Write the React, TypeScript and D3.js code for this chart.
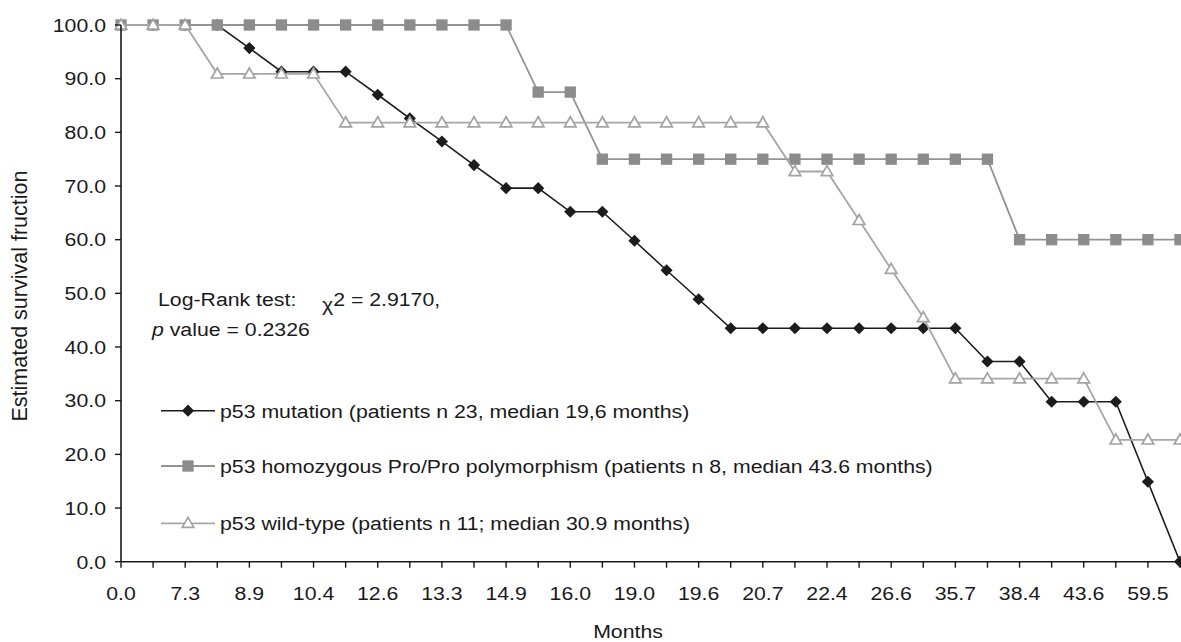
import React from 'react';
import * as d3 from 'd3';

// x categories: every other point carries a month label
const xTickLabels = ['0.0', '7.3', '8.9', '10.4', '12.6', '13.3', '14.9', '16.0', '19.0',
  '19.6', '20.7', '22.4', '26.6', '35.7', '38.4', '43.6', '59.5'];

const mutation = [100, 100, 100, 100, 95.7, 91.3, 91.3, 91.3, 87.0, 82.6, 78.3, 73.9,
  69.6, 69.6, 65.2, 65.2, 59.8, 54.3, 48.9, 43.5, 43.5, 43.5, 43.5, 43.5, 43.5, 43.5,
  43.5, 37.3, 37.3, 29.8, 29.8, 29.8, 14.9, 0];

const proPro = [100, 100, 100, 100, 100, 100, 100, 100, 100, 100, 100, 100, 100, 87.5,
  87.5, 75, 75, 75, 75, 75, 75, 75, 75, 75, 75, 75, 75, 75, 60, 60, 60, 60, 60, 60];

const wildType = [100, 100, 100, 90.9, 90.9, 90.9, 90.9, 81.8, 81.8, 81.8, 81.8, 81.8,
  81.8, 81.8, 81.8, 81.8, 81.8, 81.8, 81.8, 81.8, 81.8, 72.7, 72.7, 63.6, 54.5, 45.5,
  34.1, 34.1, 34.1, 34.1, 34.1, 22.7, 22.7, 22.7];

const seriesNames = [
  'p53 mutation (patients n 23, median 19,6 months)',
  'p53 homozygous Pro/Pro polymorphism (patients n 8, median 43.6 months)',
  'p53 wild-type (patients n 11; median 30.9 months)'
];

const W = 1181;
const H = 642;
const FONT = '"Liberation Sans", Arial, sans-serif';
const FS = 19;
const SX = 1.12;

const styles = [
  { line: '#1c1c1c', width: 1.6, marker: 'diamond' },
  { line: '#939393', width: 1.8, marker: 'square' },
  { line: '#a6a6a6', width: 1.8, marker: 'triangle' }
];

const diamondPath = d3.symbol(d3.symbolSquare, 74)();
const squarePath = d3.symbol(d3.symbolSquare, 128)();
const trianglePath = d3.symbol(d3.symbolTriangle, 58)();

function Marker({ kind, x, y }) {
  if (kind === 'diamond') {
    return <path d={diamondPath} transform={`translate(${x},${y}) rotate(45)`} fill="#1c1c1c" />;
  }
  if (kind === 'square') {
    return <path d={squarePath} transform={`translate(${x},${y})`} fill="#8c8c8c" />;
  }
  return <path d={trianglePath} transform={`translate(${x},${y + 0.8})`} fill="#fff"
    stroke="#a3a3a3" strokeWidth={1.7} />;
}

function Txt({ x, y, anchor = 'start', size = FS, children, italic = false }) {
  return (
    <text transform={`translate(${x},${y}) scale(${SX},1)`} textAnchor={anchor}
      fontSize={size} fontFamily={FONT} fill="#1a1a1a" fontStyle={italic ? 'italic' : 'normal'}>
      {children}
    </text>
  );
}

export default function App() {
  const data = [mutation, proPro, wildType];
  const x = d3.scalePoint().domain(d3.range(mutation.length)).range([121, 1180]);
  const y = d3.scaleLinear().domain([0, 100]).range([561.7, 25]);
  const line = d3.line().x((d, i) => x(i)).y(d => y(d));
  const yTicks = y.ticks(10);
  const legendY = [410.7, 466, 523.3];

  return (
    <svg width={W} height={H} style={{ position: 'absolute', left: 0, top: 0, background: '#fff' }}>
      {data.map((vals, s) => (
        <g key={s}>
          <path d={line(vals)} fill="none" stroke={styles[s].line} strokeWidth={styles[s].width} />
          {vals.map((v, i) => <Marker key={i} kind={styles[s].marker} x={x(i)} y={y(v)} />)}
        </g>
      ))}

      {/* axes */}
      <line x1={121} x2={121} y1={y(100)} y2={y(0)} stroke="#1a1a1a" strokeWidth={1.6} />
      <line x1={121} x2={W} y1={y(0)} y2={y(0)} stroke="#1a1a1a" strokeWidth={1.6} />
      {yTicks.map(t => (
        <g key={t}>
          <line x1={115} x2={121} y1={y(t)} y2={y(t)} stroke="#1a1a1a" strokeWidth={1.4} />
          <Txt x={106} y={y(t) + 6.8} anchor="end">{t.toFixed(1)}</Txt>
        </g>
      ))}
      {x.domain().map(i => (
        <line key={i} x1={x(i)} x2={x(i)} y1={y(0)} y2={y(0) + 6} stroke="#1a1a1a" strokeWidth={1.4} />
      ))}
      {xTickLabels.map((l, k) => (
        <Txt key={l} x={x(k * 2)} y={600} anchor="middle">{l}</Txt>
      ))}
      <Txt x={628} y={638} anchor="middle">Months</Txt>
      <text transform="translate(27,296) rotate(-90)" textAnchor="middle" fontSize={21.5}
        fontFamily={FONT} fill="#1a1a1a">Estimated survival fruction</text>

      {/* log-rank annotation */}
      <Txt x={158} y={306}>Log-Rank test:</Txt>
      <Txt x={322} y={306}><tspan dy={5}>χ</tspan><tspan dy={-5}>2 = 2.9170,</tspan></Txt>
      <Txt x={152} y={336}><tspan fontStyle="italic">p</tspan> value = 0.2326</Txt>

      {/* legend */}
      {seriesNames.map((name, s) => (
        <g key={name}>
          <line x1={161} x2={215} y1={legendY[s]} y2={legendY[s]} stroke={styles[s].line}
            strokeWidth={styles[s].width} />
          <Marker kind={styles[s].marker} x={188} y={legendY[s]} />
          <Txt x={220} y={legendY[s] + 6.8}>{name}</Txt>
        </g>
      ))}
    </svg>
  );
}
